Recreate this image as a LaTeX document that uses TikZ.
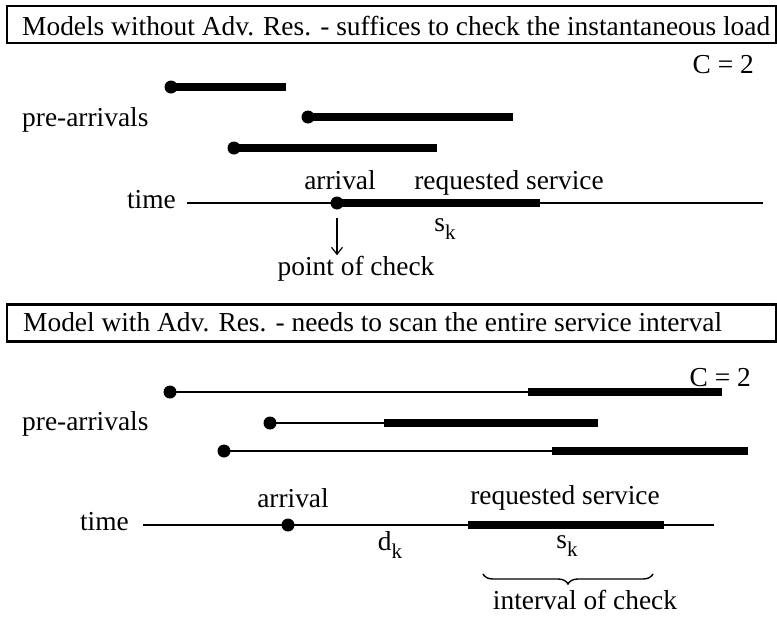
\documentclass[tikz,border=0pt]{standalone}
\usepackage{fontspec}
\setmainfont{Liberation Serif}
\usetikzlibrary{decorations.pathreplacing,arrows.meta}
\newcommand\subk{\raisebox{-0.32em}{\fontsize{21}{21}\selectfont k}}
\begin{document}
\begin{tikzpicture}[x=1pt,y=-1pt,
  lbl/.style={font=\fontsize{27.4}{30}\selectfont, inner sep=0pt},
  dotn/.style={circle, fill=black, inner sep=0pt, minimum size=13pt},
  bar/.style={line width=8.5pt},
  thinline/.style={line width=1.4pt},
  titlebox/.style={draw, line width=2.5pt, inner sep=0pt}
]
\useasboundingbox (0,0) rectangle (777,619);

% ---------- top panel ----------
\node[titlebox, minimum width=769pt, minimum height=37pt] (t1) at (391.5,24.5) {};
\node[lbl, anchor=base west] (t1text) at (22,35) {Models without Adv. Res. - suffices to check the instantaneous load};
\node[lbl, anchor=east] (c1) at (754,65) {C = 2};

\node[dotn] (pa1) at (171,87) {};
\coordinate (pe1) at (286,87);
\node[dotn] (pa2) at (308,117) {};
\coordinate (pe2) at (513,117);
\node[dotn] (pa3) at (234,148) {};
\coordinate (pe3) at (437,148);
\draw[bar] (pa1.center) -- (pe1);
\draw[bar] (pa2.center) -- (pe2);
\draw[bar] (pa3.center) -- (pe3);
\node[lbl, anchor=base west] (pre1) at (22,126) {pre-arrivals};

\node[lbl, anchor=base east] (time1) at (176,208) {time};
\coordinate (ts1) at (187,203);
\coordinate (te1) at (763,203);
\draw[thinline] (ts1) -- (te1);
\node[dotn] (ar1) at (337,203) {};
\coordinate (se1) at (540,203);
\draw[bar] (ar1.center) -- (se1);
\node[lbl, anchor=base] (arl1) at (340,189) {arrival};
\node[lbl, anchor=base] (rs1) at (509,189) {requested service};
\node[lbl, anchor=base] (sk1) at (445,231) {s\subk};
\node[lbl] (poc) at (356,269) {point of check};
\draw[line width=1.2pt, -{Straight Barb[length=7pt,width=11pt]}, shorten <=8pt, shorten >=1pt]
  (ar1.south) -- (ar1.south |- poc.north);

% ---------- bottom panel ----------
\node[titlebox, minimum width=769pt, minimum height=37pt] (t2) at (391.5,323) {};
\node[lbl, anchor=base west] (t2text) at (23,331) {Model with Adv. Res. - needs to scan the entire service interval};
\node[lbl, anchor=east] (c2) at (751,378) {C = 2};

\node[dotn] (qa1) at (170,392) {};
\coordinate (qb1) at (528,392);
\coordinate (qe1) at (722,392);
\node[dotn] (qa2) at (270,423) {};
\coordinate (qb2) at (384,423);
\coordinate (qe2) at (598,423);
\node[dotn] (qa3) at (224,451) {};
\coordinate (qb3) at (552,451);
\coordinate (qe3) at (748,451);
\draw[thinline] (qa1.center) -- (qb1);
\draw[bar] (qb1) -- (qe1);
\draw[thinline] (qa2.center) -- (qb2);
\draw[bar] (qb2) -- (qe2);
\draw[thinline] (qa3.center) -- (qb3);
\draw[bar] (qb3) -- (qe3);
\node[lbl, anchor=base west] (pre2) at (22,430) {pre-arrivals};

\node[lbl, anchor=base east] (time2) at (129,530) {time};
\coordinate (ts2) at (143,525);
\coordinate (te2) at (714,525);
\draw[thinline] (ts2) -- (te2);
\node[dotn] (ar2) at (288,525) {};
\coordinate (sb2) at (468,525);
\coordinate (se2) at (664,525);
\draw[bar] (sb2) -- (se2);
\node[lbl, anchor=base] (arl2) at (293,507) {arrival};
\node[lbl, anchor=base] (rs2) at (565,504) {requested service};
\node[lbl, anchor=base] (dk2) at (390,550) {d\subk};
\node[lbl, anchor=base] (sk2) at (567,548) {s\subk};
\coordinate (br1) at (483,574);
\coordinate (br2) at (653,574);
\draw[line width=1.4pt, decorate, decoration={brace, mirror, amplitude=10pt}] (br1) -- (br2);
\node[lbl, anchor=base] (ioc) at (585,609) {interval of check};
\end{tikzpicture}
\end{document}
